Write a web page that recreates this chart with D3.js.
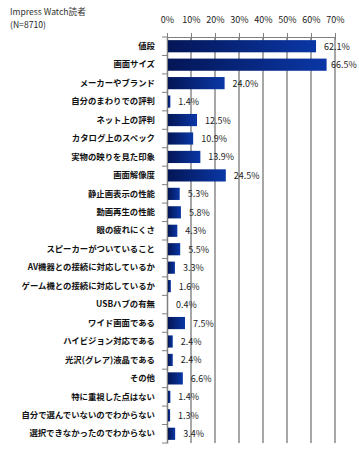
<!DOCTYPE html>
<html><head><meta charset="utf-8">
<script src="https://cdn.jsdelivr.net/npm/d3@7"></script>
<style>body{margin:0;background:#fff}svg{display:block}</style>
</head><body>
<script>
const categories = ["値段","画面サイズ","メーカーやブランド","自分のまわりでの評判","ネット上の評判","カタログ上のスペック","実物の映りを見た印象","画面解像度","静止画表示の性能","動画再生の性能","眼の疲れにくさ","スピーカーがついていること","AV機器との接続に対応しているか","ゲーム機との接続に対応しているか","USBハブの有無","ワイド画面である","ハイビジョン対応である","光沢(グレア)液晶である","その他","特に重視した点はない","自分で選んでいないのでわからない","選択できなかったのでわからない"];
const values = [62.1,66.5,24.0,1.4,12.5,10.9,13.9,24.5,5.3,5.8,4.3,5.5,3.3,1.6,0.4,7.5,2.4,2.4,6.6,1.4,1.3,3.4];
const tickValues = [0,10,20,30,40,50,60,70];
const titleLines = ["Impress Watch読者","(N=8710)"];

const W=359,H=459;
const svg=d3.select("body").append("svg").attr("width",W).attr("height",H);
const defs=svg.append("defs");
const g=defs.append("linearGradient").attr("id","bg").attr("x1","0").attr("x2","1").attr("y1","0").attr("y2","0");
g.append("stop").attr("offset","0%").attr("stop-color","#041656");
g.append("stop").attr("offset","100%").attr("stop-color","#0a37a6");

const x=d3.scaleLinear().domain([0,70]).range([167,335]);
const y=d3.scaleBand().domain(categories).range([37,443]).paddingInner(0.34).paddingOuter(0.17);
const font="'Noto Sans CJK JP','DejaVu Sans',sans-serif";

// title
svg.append("text").attr("x",10).attr("y",15).attr("font-family",font).attr("font-size",8.6).attr("fill","#333").text(titleLines[0]);
svg.append("text").attr("x",10).attr("y",28).attr("font-family",font).attr("font-size",8.6).attr("fill","#222").text(titleLines[1]);

// gridlines
svg.append("g").selectAll("line").data(tickValues.slice(1)).join("line")
  .attr("x1",d=>x(d)).attr("x2",d=>x(d)).attr("y1",37).attr("y2",443)
  .attr("stroke","#8a8a8a").attr("stroke-width",1.5);

// top axis
const xa=svg.append("g").attr("transform","translate(0,37)")
  .call(d3.axisTop(x).tickValues(tickValues).tickFormat(d=>d+"%").tickSize(4).tickSizeOuter(0));
xa.select(".domain").attr("stroke","#808080");
xa.selectAll(".tick line").attr("stroke","#808080").attr("y2",-4).attr("y1",3);
xa.selectAll("text").attr("font-family",font).attr("font-size",9).attr("fill","#222").attr("y",-14);

// left axis
const ya=svg.append("g").attr("transform","translate(167,0)")
  .call(d3.axisLeft(y).tickSize(0).tickPadding(12));
ya.select(".domain").attr("stroke","#808080").attr("stroke-width",1.5);
ya.selectAll("text").attr("font-family",font).attr("font-size",8.4).attr("font-weight","bold").attr("fill","#111");
// separator ticks
const seps=d3.range(categories.length+1).map(i=>37+i*(406/categories.length));
svg.append("g").selectAll("line").data(seps).join("line")
  .attr("x1",162).attr("x2",167).attr("y1",d=>d).attr("y2",d=>d).attr("stroke","#808080");

// bars
svg.append("g").selectAll("rect").data(values).join("rect")
  .attr("x",x(0)+1).attr("y",(d,i)=>y(categories[i]))
  .attr("width",d=>Math.max(0,x(d)-x(0)-1)).attr("height",y.bandwidth())
  .attr("fill","url(#bg)");

// value labels
svg.append("g").selectAll("text").data(values).join("text")
  .attr("x",d=>Math.min(x(d)+8, W-28)).attr("y",(d,i)=>y(categories[i])+y.bandwidth()/2+3.5)
  .attr("font-family",font).attr("font-size",9).attr("fill","#222")
  .text(d=>d.toFixed(1)+"%");
</script>
</body></html>
